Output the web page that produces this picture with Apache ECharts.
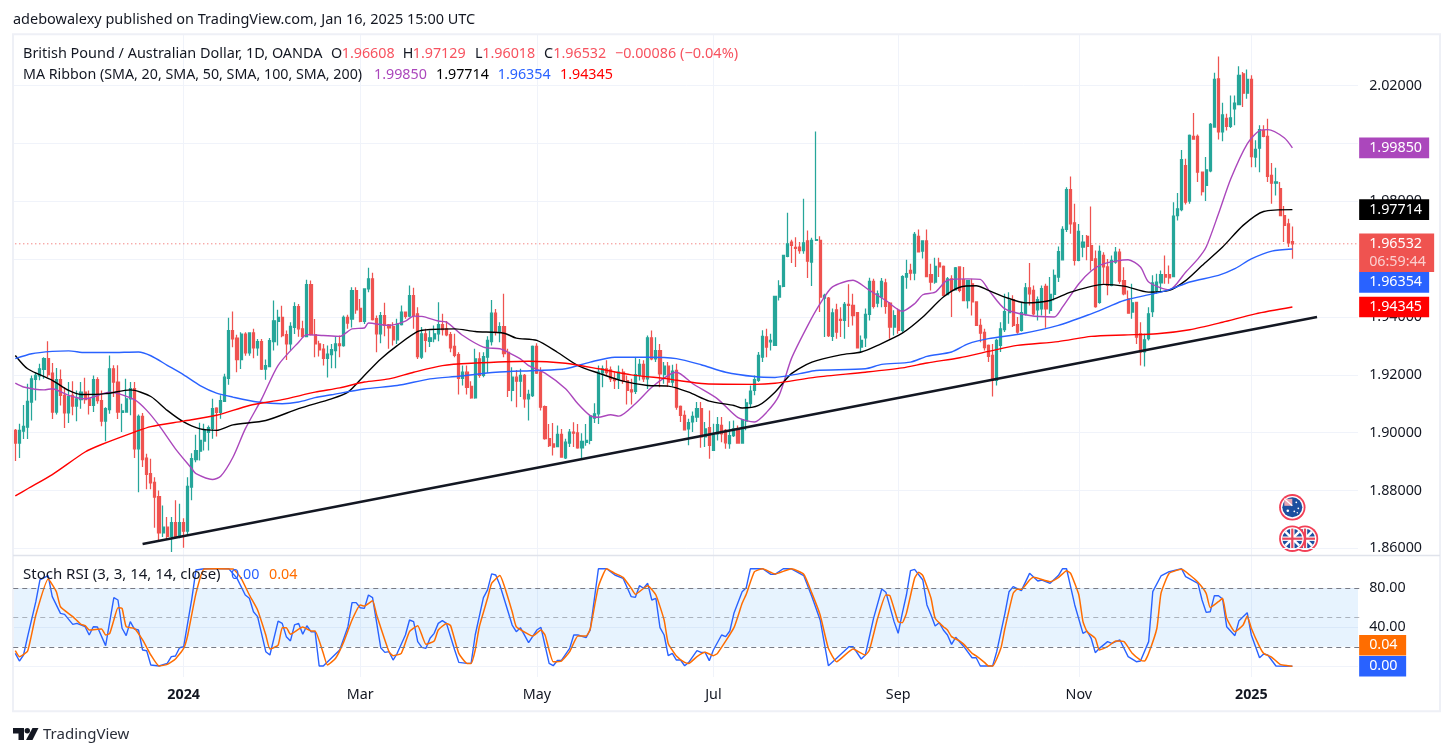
<!DOCTYPE html>
<html><head><meta charset="utf-8"><style>html,body{margin:0;padding:0;background:#fff}#c{width:1453px;height:756px}</style>
<script src="https://cdn.jsdelivr.net/npm/echarts@6/dist/echarts.min.js"></script></head><body><div id="c"></div><script>
// [open, close, low, high]
const ohlc=[
[1.9008,1.8964,1.8902,1.9013],[1.8964,1.9008,1.8912,1.9031],[1.9005,1.9022,1.8978,1.9096],[1.9019,1.9108,1.8978,1.9169],[1.9106,1.9186,1.9042,1.9198],[1.9184,1.9198,1.9111,1.9209],[1.9196,1.9221,1.9181,1.9238],[1.9219,1.9256,1.9186,1.9261],[1.9256,1.9201,1.9192,1.9316],[1.9206,1.9071,1.9047,1.9241],
[1.9071,1.9183,1.9063,1.9224],[1.9183,1.9129,1.9094,1.9218],[1.9129,1.9068,1.9016,1.9158],[1.9068,1.9125,1.9033,1.9175],[1.9129,1.9092,1.906,1.9178],[1.9092,1.9117,1.9039,1.9146],[1.9114,1.914,1.9083,1.9175],[1.914,1.9114,1.91,1.919],[1.9117,1.9094,1.9063,1.9146],[1.9094,1.9183,1.9071,1.9198],
[1.9183,1.9111,1.91,1.9192],[1.9111,1.904,1.9022,1.9146],[1.904,1.9083,1.897,1.9088],[1.908,1.9221,1.9065,1.9267],[1.9221,1.9175,1.9123,1.9233],[1.9175,1.9071,1.9047,1.9233],[1.907,1.9075,1.9002,1.91],[1.9071,1.9117,1.9071,1.9186],[1.9117,1.9152,1.906,1.9175],[1.9152,1.8944,1.8912,1.9175],
[1.8944,1.9056,1.8794,1.9063],[1.9056,1.8907,1.8881,1.9068],[1.8912,1.8856,1.8804,1.8927],[1.8858,1.8826,1.8804,1.891],[1.8828,1.8777,1.8671,1.8846],[1.8779,1.8653,1.8627,1.88],[1.8653,1.8673,1.8639,1.8748],[1.8673,1.8641,1.8631,1.8708],[1.8641,1.8689,1.8587,1.8708],[1.8689,1.8641,1.8639,1.8766],
[1.8639,1.8689,1.8635,1.8754],[1.8689,1.8659,1.8602,1.8704],[1.8659,1.8814,1.8644,1.8846],[1.8812,1.891,1.8766,1.8929],[1.8907,1.8938,1.8898,1.8993],[1.8936,1.8973,1.8904,1.9034],[1.8971,1.9008,1.8938,1.9031],[1.9001,1.9017,1.8938,1.9025],[1.9015,1.9083,1.8979,1.9117],[1.9085,1.907,1.8987,1.9088],
[1.907,1.9111,1.9048,1.9129],[1.9108,1.9192,1.9106,1.9204],[1.9188,1.9353,1.9166,1.9397],[1.9353,1.9324,1.9295,1.9419],[1.9327,1.9253,1.9209,1.9339],[1.9253,1.9341,1.922,1.9347],[1.9341,1.9276,1.9266,1.9347],[1.9276,1.9345,1.9266,1.9347],[1.9345,1.9293,1.9257,1.9359],[1.9293,1.9315,1.9266,1.9324],
[1.9315,1.922,1.9217,1.9324],[1.922,1.9232,1.9183,1.9253],[1.9228,1.9318,1.9226,1.9327],[1.9315,1.9387,1.9284,1.9457],[1.9385,1.9399,1.9301,1.9425],[1.9399,1.9336,1.933,1.9439],[1.9339,1.9307,1.9251,1.9353],[1.9307,1.9368,1.9284,1.9382],[1.9364,1.9436,1.9341,1.9451],[1.9436,1.9359,1.9332,1.9445],
[1.9359,1.9332,1.9332,1.9387],[1.9332,1.9512,1.933,1.9529],[1.9512,1.9339,1.9336,1.9526],[1.9339,1.9307,1.9261,1.9393],[1.9307,1.9286,1.9263,1.9318],[1.9289,1.9257,1.9232,1.9307],[1.9257,1.9272,1.9191,1.9301],[1.927,1.9287,1.9223,1.9307],[1.9284,1.9307,1.9223,1.9332],[1.9307,1.9301,1.9261,1.9336],
[1.9301,1.9399,1.9297,1.9405],[1.9399,1.9379,1.9359,1.9408],[1.9393,1.9491,1.9364,1.9503],[1.9491,1.9425,1.9411,1.9503],[1.943,1.9385,1.9382,1.9462],[1.9385,1.9497,1.9376,1.9497],[1.9497,1.9532,1.9486,1.957],[1.9532,1.9391,1.9388,1.9553],[1.9394,1.9342,1.9278,1.9405],[1.9342,1.9405,1.9309,1.9417],
[1.9405,1.9371,1.9333,1.9449],[1.9373,1.9362,1.929,1.9376],[1.9367,1.9321,1.9301,1.9382],[1.9321,1.9376,1.9307,1.9394],[1.9374,1.9417,1.9371,1.944],[1.9417,1.9402,1.9394,1.9419],[1.9403,1.9474,1.9399,1.9509],[1.9474,1.9405,1.9359,1.9501],[1.9411,1.9263,1.9255,1.9434],[1.9261,1.9342,1.9255,1.9365],
[1.9342,1.9319,1.9278,1.9359],[1.9316,1.9328,1.9296,1.9353],[1.9324,1.9342,1.9313,1.9371],[1.9342,1.9374,1.9316,1.9451],[1.9374,1.9356,1.9336,1.9411],[1.9359,1.9338,1.9333,1.9386],[1.9339,1.9293,1.9278,1.9348],[1.9298,1.9267,1.9261,1.9342],[1.927,1.9188,1.9132,1.9278],[1.9188,1.9209,1.9163,1.9232],
[1.9209,1.9157,1.9132,1.9232],[1.916,1.912,1.9117,1.9178],[1.912,1.9255,1.9117,1.929],[1.9255,1.9198,1.919,1.9278],[1.9198,1.9263,1.9192,1.9278],[1.9261,1.9319,1.9206,1.9333],[1.9315,1.9413,1.9301,1.9459],[1.9413,1.9348,1.9336,1.9428],[1.9348,1.9367,1.9313,1.9382],[1.9367,1.9273,1.9261,1.948],
[1.9278,1.9146,1.9123,1.929],[1.9146,1.9192,1.9109,1.9226],[1.9192,1.9178,1.9088,1.9217],[1.9178,1.9198,1.9123,1.9221],[1.9198,1.9117,1.9086,1.9203],[1.9117,1.9132,1.9042,1.9148],[1.9128,1.9298,1.9123,1.9301],[1.9298,1.9206,1.9203,1.9309],[1.9209,1.9088,1.9077,1.9226],[1.909,1.8979,1.8975,1.9094],
[1.8979,1.8955,1.895,1.903],[1.8961,1.895,1.8921,1.9033],[1.8952,1.8994,1.895,1.9025],[1.8994,1.8915,1.8915,1.9013],[1.8913,1.8967,1.8909,1.8979],[1.8964,1.9002,1.895,1.9013],[1.9002,1.8998,1.895,1.9036],[1.8999,1.8947,1.8944,1.903],[1.8947,1.897,1.8909,1.8998],[1.8966,1.8973,1.8955,1.903],
[1.8973,1.9057,1.896,1.906],[1.905,1.9065,1.9033,1.9102],[1.9065,1.9209,1.903,1.9232],[1.9207,1.9221,1.9157,1.9232],[1.9221,1.9208,1.9198,1.925],[1.9217,1.9186,1.9175,1.9229],[1.9186,1.918,1.9151,1.9209],[1.9186,1.9209,1.9151,1.9232],[1.9209,1.9178,1.9169,1.9221],[1.918,1.9146,1.9097,1.9198],
[1.9148,1.9141,1.9097,1.9186],[1.9143,1.9201,1.9134,1.9261],[1.9198,1.9236,1.918,1.9255],[1.9236,1.9186,1.9175,1.925],[1.9186,1.9328,1.9151,1.9336],[1.9328,1.9255,1.925,1.9353],[1.9255,1.9284,1.9244,1.933],[1.9284,1.9203,1.9157,1.9307],[1.9201,1.923,1.9169,1.9244],[1.923,1.9175,1.9158,1.9244],
[1.9175,1.9213,1.916,1.9235],[1.9215,1.9088,1.9079,1.9238],[1.9091,1.906,1.9037,1.9094],[1.906,1.901,1.9008,1.9077],[1.9013,1.9035,1.8956,1.9048],[1.9037,1.9056,1.9002,1.9073],[1.9054,1.9083,1.9037,1.9106],[1.9083,1.8985,1.8948,1.9106],[1.8985,1.9013,1.895,1.9037],[1.9017,1.8956,1.891,1.9077],
[1.8939,1.8996,1.8939,1.9031],[1.8996,1.9028,1.8973,1.9054],[1.9025,1.8996,1.8967,1.9054],[1.9008,1.8965,1.8944,1.9013],[1.8962,1.899,1.8944,1.9039],[1.899,1.9013,1.8985,1.9042],[1.9013,1.8964,1.8962,1.9025],[1.8964,1.9045,1.8962,1.9048],[1.904,1.9103,1.9008,1.9117],[1.91,1.9144,1.9088,1.9163],
[1.9146,1.9183,1.9129,1.9198],[1.9181,1.9267,1.9175,1.9279],[1.9261,1.9333,1.9244,1.9354],[1.9331,1.9296,1.9261,1.9359],[1.9314,1.9319,1.9284,1.9342],[1.9302,1.9471,1.9302,1.9471],[1.9469,1.9508,1.9457,1.9527],[1.9506,1.9613,1.9503,1.9615],[1.961,1.9653,1.9607,1.9761],[1.9659,1.9648,1.9587,1.9667],
[1.9641,1.9637,1.9573,1.9676],[1.9642,1.963,1.9619,1.9659],[1.963,1.9656,1.9619,1.9809],[1.9663,1.9593,1.9535,1.9699],[1.959,1.9665,1.9507,1.9674],[1.9665,1.9668,1.9663,2.0042],[1.9665,1.9469,1.9417,1.9679],[1.9465,1.9475,1.9331,1.948],[1.9465,1.9336,1.9331,1.9469],[1.9333,1.9414,1.9317,1.9429],
[1.9425,1.9348,1.9325,1.9446],[1.9392,1.9388,1.9331,1.9434],[1.9388,1.9444,1.9325,1.9452],[1.9444,1.944,1.9365,1.9513],[1.944,1.9405,1.9371,1.948],[1.9415,1.9293,1.9293,1.9417],[1.9296,1.9319,1.9279,1.9336],[1.9328,1.9409,1.9296,1.9429],[1.9409,1.9523,1.9388,1.9536],[1.9523,1.9437,1.9429,1.9532],
[1.9448,1.948,1.9434,1.9492],[1.9469,1.9523,1.9434,1.9535],[1.9518,1.9437,1.9411,1.9532],[1.9448,1.9365,1.9325,1.9452],[1.9365,1.9405,1.9336,1.9423],[1.9423,1.9354,1.9342,1.9429],[1.9354,1.954,1.9348,1.9544],[1.9538,1.955,1.9498,1.9598],[1.9561,1.9552,1.9527,1.9584],[1.9552,1.9686,1.9527,1.9694],
[1.9679,1.9625,1.9625,1.9703],[1.9628,1.9663,1.9602,1.9665],[1.9663,1.954,1.9538,1.9703],[1.9547,1.9521,1.9492,1.9584],[1.9521,1.9575,1.9515,1.9605],[1.9587,1.9573,1.9538,1.9605],[1.9575,1.9475,1.9475,1.9578],[1.9477,1.9532,1.9475,1.9538],[1.9532,1.9492,1.94,1.9544],[1.9494,1.957,1.9492,1.9573],
[1.9573,1.9492,1.9486,1.9575],[1.9529,1.9457,1.9457,1.9573],[1.9457,1.9527,1.9429,1.9529],[1.9515,1.9452,1.9405,1.9532],[1.9452,1.9371,1.9371,1.9452],[1.9371,1.9344,1.9313,1.9394],[1.9347,1.9294,1.9284,1.9359],[1.9302,1.9264,1.9244,1.9305],[1.9267,1.9181,1.9125,1.9307],[1.9181,1.9319,1.9163,1.9325],
[1.9302,1.9359,1.9279,1.9382],[1.9356,1.9419,1.9348,1.948],[1.9415,1.9457,1.9377,1.9486],[1.946,1.9371,1.9365,1.9475],[1.9374,1.9348,1.9342,1.94],[1.9354,1.9415,1.935,1.9451],[1.9411,1.9501,1.9405,1.9518],[1.9501,1.948,1.944,1.9587],[1.9492,1.9411,1.9405,1.9509],[1.9425,1.946,1.9388,1.9471],
[1.9428,1.9498,1.9405,1.9509],[1.9506,1.9428,1.9363,1.9515],[1.9423,1.9478,1.9411,1.9538],[1.9478,1.9544,1.9457,1.9564],[1.9538,1.9626,1.9521,1.9644],[1.9598,1.9703,1.9596,1.9714],[1.9703,1.9841,1.9694,1.9849],[1.9841,1.9722,1.9688,1.9886],[1.9726,1.9596,1.9578,1.9792],[1.9596,1.9696,1.9593,1.9722],
[1.9642,1.9659,1.9607,1.9684],[1.9679,1.9644,1.9596,1.9684],[1.9647,1.9596,1.9561,1.9782],[1.9601,1.9436,1.9432,1.963],[1.9451,1.9627,1.9446,1.9647],[1.9613,1.9573,1.9515,1.9624],[1.9573,1.9509,1.9475,1.9601],[1.9509,1.9596,1.9506,1.9613],[1.959,1.9624,1.9584,1.9642],[1.9624,1.9524,1.9515,1.9636],
[1.9526,1.948,1.9475,1.9572],[1.9463,1.9413,1.9411,1.9492],[1.9417,1.9449,1.9394,1.9515],[1.9451,1.933,1.9307,1.9451],[1.9342,1.9279,1.9232,1.9382],[1.9279,1.9321,1.9229,1.9342],[1.9325,1.9411,1.9319,1.9434],[1.9419,1.9518,1.94,1.9544],[1.9492,1.9521,1.948,1.955],[1.9518,1.9547,1.9486,1.9561],
[1.9547,1.9538,1.9515,1.9613],[1.9547,1.9535,1.9515,1.9578],[1.954,1.9749,1.9538,1.9797],[1.9751,1.9774,1.9734,1.9829],[1.9771,1.9944,1.9766,1.9978],[1.9924,1.9797,1.9789,1.9947],[1.9801,2.0028,1.9792,2.0031],[2.0025,2.0015,2.0013,2.0106],[2.0025,1.9901,1.9867,2.0031],[1.9901,1.9834,1.982,1.9901],
[1.9855,1.9909,1.9801,1.9953],[1.9905,2.0066,1.9901,2.0071],[2.0057,2.0222,2.0057,2.0245],[2.0224,2.004,2.0014,2.0301],[2.004,2.0099,2.0008,2.0141],[2.0087,2.0059,2.0045,2.0103],[2.0059,2.0089,2.0054,2.0166],[2.012,2.014,2.0063,2.0166],[2.0135,2.0236,2.0132,2.0267],[2.0241,2.0174,2.0126,2.0247],
[2.0174,2.0222,2.0155,2.0256],[2.0222,1.9955,1.9918,2.0236],[1.9953,1.998,1.9918,2.0011],[1.9984,2.0048,1.9901,2.0063],[2.0045,2.0025,2.0022,2.0063],[2.0025,1.9886,1.9867,2.0086],[1.989,1.9863,1.9792,1.9933],[1.9863,1.9867,1.982,1.9916],[1.9844,1.9751,1.9751,1.9867],[1.9751,1.9717,1.9659,1.9784],
[1.9722,1.9656,1.9642,1.974],[1.96608,1.96532,1.96018,1.97129]];
// [bar index, value]
const ma20=[[0,1.9171],[2,1.9158],[7,1.9148],[9,1.9152],[13,1.9129],[17,1.9117],[23,1.914],[29,1.9114],[32,1.9077],[35,1.9025],[39,1.8944],[43,1.8875],[44,1.8858],[48,1.8838],[50,1.8849],[53,1.8915],[56,1.9013],[60,1.9117],[64,1.9233],[69,1.9313],[71,1.9339],[75,1.9336],[79,1.9333],[82,1.9359],[85,1.9362],[86,1.9379],[91,1.9371],[95,1.9386],[97,1.9403],[99,1.9402],[103,1.9386],[105,1.9382],[109,1.9336],[114,1.9296],[118,1.929],[120,1.9278],[123,1.9255],[125,1.9232],[129,1.9206],[134,1.9152],[137,1.91],[140,1.9059],[142,1.9053],[145,1.9062],[147,1.9057],[151,1.91],[155,1.9157],[159,1.9198],[161,1.9209],[165,1.9169],[171,1.9117],[176,1.9052],[180,1.9037],[183,1.9071],[186,1.9129],[189,1.9256],[193,1.9371],[196,1.9446],[199,1.9504],[204,1.9527],[208,1.9492],[212,1.9457],[216,1.942],[219,1.9446],[221,1.9477],[224,1.9486],[227,1.9527],[232,1.9532],[235,1.953],[237,1.9494],[241,1.9428],[247,1.9405],[253,1.94],[255,1.9434],[259,1.9515],[262,1.9559],[265,1.9584],[271,1.9598],[274,1.9573],[276,1.9521],[281,1.9494],[285,1.9555],[288,1.9601],[290,1.9642],[293,1.9757],[296,1.9878],[300,1.9999],[303,2.0045],[305,2.0048],[309,2.002],[311,1.9985]];
const ma50=[[0,1.9267],[3,1.9221],[9,1.9181],[13,1.9146],[16,1.9132],[22,1.9135],[28,1.9148],[33,1.9125],[37,1.9077],[41,1.9037],[45,1.9013],[49,1.9008],[53,1.9027],[61,1.9042],[69,1.9083],[77,1.9117],[81,1.914],[85,1.9198],[89,1.9255],[93,1.9301],[98,1.935],[101,1.9357],[107,1.9359],[112,1.935],[119,1.9344],[122,1.9327],[127,1.9319],[132,1.9278],[137,1.9232],[142,1.9206],[148,1.9178],[154,1.9163],[159,1.9161],[164,1.914],[169,1.9109],[175,1.9094],[177,1.9085],[181,1.9094],[185,1.914],[189,1.9204],[194,1.9244],[201,1.9269],[206,1.9279],[210,1.9302],[216,1.9344],[221,1.94],[226,1.9469],[230,1.9503],[234,1.9508],[237,1.9492],[241,1.9469],[246,1.9449],[252,1.9457],[257,1.9486],[265,1.9513],[270,1.9507],[276,1.9486],[281,1.9492],[285,1.9526],[289,1.9578],[294,1.9642],[299,1.9717],[304,1.9765],[311,1.97714]];
const ma100=[[0,1.9256],[4,1.9273],[9,1.9281],[13,1.9283],[17,1.9277],[23,1.9277],[30,1.9279],[33,1.9266],[37,1.9233],[41,1.92],[45,1.9163],[49,1.9137],[53,1.9123],[59,1.9106],[65,1.91],[69,1.9106],[73,1.9121],[77,1.9131],[85,1.9151],[93,1.9163],[101,1.9186],[108,1.9195],[117,1.9209],[127,1.9215],[134,1.9221],[140,1.9244],[146,1.9261],[154,1.9261],[161,1.9256],[167,1.9235],[173,1.9209],[180,1.9194],[185,1.9191],[191,1.9204],[195,1.9215],[207,1.9221],[211,1.9236],[218,1.9244],[222,1.9264],[228,1.9279],[232,1.9307],[237,1.9325],[245,1.9342],[254,1.9371],[262,1.9411],[266,1.9434],[270,1.9457],[277,1.948],[281,1.9494],[286,1.9521],[293,1.9544],[297,1.9567],[301,1.9601],[306,1.9628],[311,1.96354]];
const ma200=[[0,1.8781],[3,1.8806],[9,1.8855],[17,1.8933],[21,1.8959],[29,1.9002],[33,1.9021],[41,1.904],[49,1.906],[57,1.9094],[65,1.9114],[73,1.914],[79,1.9155],[85,1.9175],[91,1.9186],[97,1.9209],[104,1.9232],[111,1.924],[125,1.9247],[134,1.924],[142,1.9221],[150,1.92],[159,1.9186],[161,1.9181],[168,1.9169],[180,1.9167],[185,1.9171],[195,1.9192],[207,1.9209],[216,1.9224],[222,1.9241],[230,1.9259],[237,1.9281],[244,1.9302],[254,1.9315],[262,1.9333],[270,1.9338],[278,1.9342],[286,1.9356],[294,1.9382],[302,1.9411],[311,1.94345]];
const trendLine=[[31,1.8615],[317,1.94]];
const stochK=[[0,13.3],[1,5.4],[2,11.6],[3,30.4],[5,66.3],[6,88.5],[8,93],[9,71.4],[11,54.3],[12,53.3],[14,43],[15,44],[17,40.6],[18,32.1],[19,40.6],[20,40.3],[22,21.2],[24,70.4],[25,68],[26,39],[27,31.4],[28,45.8],[29,38.2],[30,37.2],[31,16.7],[32,16],[33,1.3],[35,.3],[37,3],[38,9.9],[39,10.5],[40,19],[41,20.1],[43,69.7],[44,98.8],[46,100],[52,100],[54,90.2],[56,73.1],[57,69.7],[58,56],[59,50.9],[61,15],[62,11.6],[64,46.4],[65,44],[66,30.4],[67,26],[68,42.4],[69,44],[70,32.8],[71,41.6],[72,35.5],[73,35.5],[74,.3],[75,.3],[79,16.7],[81,40.6],[82,65.3],[83,65.3],[84,60.1],[85,59.4],[86,73.1],[87,70.4],[89,19],[90,14.3],[91,15],[92,6.4],[93,13.3],[95,32.1],[96,47.5],[97,45.8],[98,25.3],[99,19.4],[100,18.4],[101,28.7],[102,33.8],
[103,44],[104,46.8],[105,44],[107,16.7],[108,4],[110,3],[111,3],[112,32.1],[114,70.4],[115,78.3],[116,94.7],[117,93.6],[118,83.4],[121,42.3],[122,35.5],[123,39.6],[125,24.2],[127,37.2],[128,40],[130,3],[131,.6],[132,6],[133,6],[135,18.4],[136,32.1],[137,32.1],[139,29.4],[140,37.2],[142,100],[144,100],[146,93.6],[148,90.2],[150,71.4],[151,70.7],[152,82.7],[153,80],[154,85.1],[155,68],[156,69.7],[157,39.6],[158,32.1],[159,10.9],[160,13.3],[161,6.4],[162,6.4],[163,.6],[164,4],[166,16],[167,14.3],[168,14.3],[169,5.8],[170,16.7],[172,32.1],[173,30.4],[174,36.2],[175,54.3],[177,76.5],[178,80.6],[179,100],[182,100],[184,94.3],[185,94.3],[187,100],[189,100],[192,93],[194,71.4],[196,47.5],[198,.6],[200,8.2],[203,20.1],[204,20.1],[206,7.5],[207,11.6],[209,49.2],[211,79.3],[212,76],
[214,45.8],[215,33.8],[216,54.3],[217,73.1],[218,98.1],[219,99.4],[221,88.5],[222,62.9],[223,52.6],[224,41.3],[225,44.7],[226,37.2],[227,32.1],[228,22.5],[229,29.7],[231,20.1],[233,8.8],[234,8.8],[235,.3],[238,.3],[239,15],[241,54.3],[242,76.5],[243,81.7],[245,77.6],[247,95.3],[249,87.5],[250,88.5],[252,85.1],[254,93],[255,100],[256,100],[258,62.9],[260,33.8],[261,36.2],[262,28.7],[263,14],[264,18.4],[266,25.3],[267,23.5],[269,27],[271,9.9],[273,4.7],[274,5.4],[276,25.3],[277,76.5],[279,92.6],[281,97],[284,100],[285,91.9],[288,85.1],[289,68],[290,55.3],[291,56],[292,72.4],[293,72.4],[294,69],[295,40.6],[297,31.4],[298,46.8],[300,55],[301,32.1],[303,8.8],[304,12.6],[305,11.6],[307,.3],[311,0]];
const stochD=[[0,16],[1,9.9],[3,15.7],[5,52.6],[8,89.5],[10,76.5],[11,61.1],[14,50.9],[16,43],[17,41.7],[18,37.2],[21,38.2],[22,32.1],[23,33.8],[24,47.5],[25,60.1],[26,59.4],[27,40.6],[29,38.9],[31,27],[33,11.6],[35,.3],[37,2],[39,7.5],[41,18.4],[42,32.1],[44,74.8],[46,99.8],[49,100],[53,99.8],[55,90.2],[57,73.1],[59,57.7],[61,32.1],[62,17.7],[64,21.8],[65,39.6],[66,39.6],[67,32.8],[70,40.3],[72,36.2],[73,36.2],[75,13.3],[76,1.3],[78,8.2],[80,25.3],[82,47.5],[84,62.9],[85,61.8],[87,67.3],[88,52.6],[91,15],[92,10.9],[94,13.3],[96,35.5],[98,41.7],[100,22.5],[102,25.9],
[103,37.2],[105,44],[106,41.7],[108,13.3],[110,3],[111,3],[112,16.7],[113,40.6],[115,69.7],[116,85.1],[118,93],[119,83.4],[121,56],[122,40.6],[125,32.8],[126,31.1],[128,37.2],[129,32.1],[131,4.7],[133,5.4],[135,15],[137,31],[139,31],[140,38.2],[142,81.7],[144,100],[146,95.3],[148,91.2],[150,80],[151,73.8],[154,82.7],[156,73.1],[158,47.5],[159,23.5],[161,10.6],[163,4],[164,3],[166,9.9],[168,14.3],[170,10.9],[171,13.3],[175,39.6],[177,64.6],[178,73.8],[180,97],[182,100],[185,94.7],[189,100],[192,94.3],[194,74.8],[196,52.6],[198,18.4],[200,4.7],[204,17.7],[207,11.6],[208,16.7],[210,49.2],[212,73.1],[213,72.4],
[215,45.8],[216,44.7],[217,54.3],[219,90.2],[220,96.4],[221,93],[223,69.7],[224,49.2],[226,40.6],[227,37.2],[228,30.4],[230,25.9],[231,22.5],[233,13.3],[234,10.6],[236,4],[237,.3],[238,.3],[240,18.4],[241,39],[243,74.8],[244,78.9],[245,78.9],[247,88.5],[248,91.2],[252,86.8],[254,90.9],[256,98.1],[257,95.3],[259,73.1],[260,45.8],[261,35.5],[263,28.7],[264,16.7],[266,20.1],[268,25.9],[270,25.3],[272,13.3],[274,6.4],[275,5.4],[276,13.3],[278,39],[279,74.8],[281,95.3],[284,99.4],[286,93.6],[288,86.1],[290,74.8],[291,60.1],[293,66.3],[294,69.7],[295,49.2],[297,35.5],[299,42.3],[300,51.6],[301,39],[303,20.1],[304,13.3],[306,9.2],[308,2],[310,.6],[311,.04]];
const priceTicks=[1.86,1.88,1.90,1.92,1.94,1.96,1.98,2.00,2.02];
const stochGrid=[0,40,80], stochLabels=[40,80];
const monthTicks={41:'2024',84:'Mar',127:'May',170:'Jul',215:'Sep',259:'Nov',301:'2025'};
const lastPrice=1.96532;
const priceTags=[['1.99850',1.9985],['1.97714',1.97714],['1.96532',1.96532],['1.96354',1.96354],['1.94345',1.94345]];
const stochTags=[['0.04',0.04],['0.00',0]];
const categories=Array.from({length:328},(_,i)=>String(i));
const lastPriceLine=[[0,lastPrice],[327,lastPrice]];
// styles
const FONT='"Noto Sans"',TXT='#131722',UP='#26a69a',DOWN='#ef5350',LEG='#f7525f',GRID='#f0f3fa';
const tagColors=['#ab47bc','#000000','#ef5350','#2962ff','#ff0000'],tagShift=[0,0,0,33.4,0];
const stochTagColors=['#ff6d00','#2962ff'],stochShift=[-21,0];
const L=13.25,W=1346.9;
const isTick=i=>monthTicks[i]!==undefined;
function tagItem(params,api,label,color,shift,w,extra){
  const cs=params.coordSys,y=api.coord([0,api.value(1)])[1]+shift,x=cs.x+cs.width-1;
  const kids=[{type:'rect',shape:{x,y:y-10.3,width:w,height:20.6},style:{fill:color}},
    {type:'text',style:{x:x+10,y:y,text:label,fill:'#fff',font:'14.3px '+FONT,verticalAlign:'middle',align:'left'}}];
  if(extra){kids[0].shape.width=75;kids[0].shape.height=38.5;
    kids.push({type:'text',style:{x:x+10,y:y+18.5,text:extra,fill:'rgba(255,255,255,.72)',font:'14.3px '+FONT,verticalAlign:'middle',align:'left'}});}
  return {type:'group',children:kids};
}
const lineS=(d,c,w,z,xi)=>({type:'line',data:d,xAxisIndex:xi||0,yAxisIndex:xi||0,showSymbol:false,smooth:0.25,lineStyle:{color:c,width:w},itemStyle:{color:c},z:z||3,silent:true,animation:false});
const txt=(x,y,t,c,size)=>({type:'text',x,y,z:8,silent:true,style:{text:t,fill:c||TXT,font:(size||14.3)+'px '+FONT,verticalAlign:'middle'}});
const ring=(cx,cy,inner)=>({type:'group',z:6,silent:true,children:[
 {type:'circle',shape:{cx,cy,r:13.2},style:{fill:'#f23f56'}},{type:'circle',shape:{cx,cy,r:11.4},style:{fill:'#fff'}},{type:'circle',shape:{cx,cy,r:10},style:{fill:'#1c4f9f'}}].concat(inner)});
const ln=(x1,y1,x2,y2,c,w)=>({type:'line',shape:{x1,y1,x2,y2},style:{stroke:c,lineWidth:w}});
const uk=(cx,cy)=>[ln(cx-7,cy-7,cx+7,cy+7,'#fff',2.4),ln(cx-7,cy+7,cx+7,cy-7,'#fff',2.4),ln(cx-10,cy,cx+10,cy,'#fff',4.4),ln(cx,cy-10,cx,cy+10,'#fff',4.4),ln(cx-10,cy,cx+10,cy,'#e8475c',2.2),ln(cx,cy-10,cx,cy+10,'#e8475c',2.2)];
const dot=(cx,cy,r)=>({type:'circle',shape:{cx,cy,r},style:{fill:'#fff'}});
const au=(cx,cy)=>[{type:'rect',shape:{x:cx-8,y:cy-8.5,width:8,height:7},style:{fill:'#e9a5b2'}},ln(cx-8,cy-8.5,cx,cy-1.5,'#fff',1.3),dot(cx+4,cy-5,.9),dot(cx+6,cy+1,.9),dot(cx+2,cy+4,.9),dot(cx-4.5,cy+3.5,1.3),dot(cx+5,cy+5.5,.7)];
const chart=echarts.init(document.getElementById('c'),null,{renderer:'canvas'});
chart.setOption({animation:false,backgroundColor:'#fff',
 grid:[{left:L,top:35,width:W,height:520},{left:L,top:556,width:W,height:121}],
 xAxis:[0,1].map(g=>({type:'category',gridIndex:g,data:categories,boundaryGap:true,
   axisLine:{show:false},axisTick:{show:false,interval:i=>isTick(i)},
   splitLine:{show:true,alignWithLabel:true,interval:i=>isTick(i),lineStyle:{color:GRID,width:1}},
   axisLabel:g===0?{show:false,interval:i=>isTick(i)}:{show:true,interval:i=>isTick(i),margin:11,fontFamily:FONT,fontSize:14.3,color:TXT,hideOverlap:false,
     formatter:(v,i)=>{const t=monthTicks[i]||'';return /^20/.test(t)?'{b|'+t+'}':t;},rich:{b:{fontFamily:FONT,fontSize:14.3,fontWeight:'bold',color:TXT}}}})),
 yAxis:[
  {type:'value',gridIndex:0,position:'right',min:1.85768,max:2.03754,scale:true,
   axisLine:{show:false},axisTick:{show:false,customValues:priceTicks},
   splitLine:{show:true,lineStyle:{color:GRID,width:1}},
   axisLabel:{customValues:priceTicks,margin:9,fontFamily:FONT,fontSize:14.3,color:TXT,formatter:v=>v.toFixed(5)}},
  {type:'value',gridIndex:1,position:'right',min:-10.97,max:113.1,
   axisLine:{show:false},axisTick:{show:false,customValues:stochGrid},
   splitLine:{show:true,lineStyle:{color:GRID,width:1}},
   axisLabel:{customValues:stochLabels,margin:9,fontFamily:FONT,fontSize:14.3,color:TXT,formatter:v=>v.toFixed(2)}}],
 series:[
  Object.assign(lineS(lastPriceLine,DOWN,1,1),{smooth:false,lineStyle:{color:DOWN,width:1,type:[1,3]}}),
  {type:'candlestick',data:ohlc,xAxisIndex:0,yAxisIndex:0,barWidth:2.6,z:2,silent:true,animation:false,large:false,
   itemStyle:{color:UP,color0:DOWN,borderColor:UP,borderColor0:DOWN,borderWidth:1.25}},
  lineS(ma20,'#ab47bc',1.4),lineS(ma50,'#000000',1.4),lineS(ma100,'#2962ff',1.4),lineS(ma200,'#ff0000',1.4),
  Object.assign(lineS(trendLine,'#131722',2.6),{smooth:false}),
  Object.assign(lineS(stochK,'#2962ff',1.4,3,1),{smooth:false,
    markArea:{silent:true,animation:false,itemStyle:{color:'rgba(33,150,243,0.11)'},data:[[{yAxis:20},{yAxis:80}]]},
    markLine:{silent:true,animation:false,symbol:'none',label:{show:false},data:[
      {yAxis:80,lineStyle:{color:'#787b86',type:[5,4],width:1}},{yAxis:50,lineStyle:{color:'rgba(120,123,134,.55)',type:[5,4],width:1}},{yAxis:20,lineStyle:{color:'#787b86',type:[5,4],width:1}}]}}),
  Object.assign(lineS(stochD,'#ff6d00',1.5,3,1),{smooth:0.15}),
  {type:'custom',xAxisIndex:0,yAxisIndex:0,z:7,silent:true,animation:false,clip:false,data:priceTags.map(t=>[0,t[1]]),
   renderItem:(p,api)=>tagItem(p,api,priceTags[p.dataIndex][0],tagColors[p.dataIndex],tagShift[p.dataIndex],70,p.dataIndex===2?'06:59:44':null)},
  {type:'custom',xAxisIndex:1,yAxisIndex:1,z:7,silent:true,animation:false,clip:false,data:stochTags.map(t=>[0,t[1]]),
   renderItem:(p,api)=>tagItem(p,api,stochTags[p.dataIndex][0],stochTagColors[p.dataIndex],stochShift[p.dataIndex],47)}
 ],
 graphic:[
  {type:'rect',z:5,silent:true,shape:{x:1358,y:36,width:3,height:640},style:{fill:'#fff'}},
  {type:'rect',z:5,silent:true,shape:{x:13,y:34.3,width:1427,height:677},style:{fill:'none',stroke:'#eef0f6',lineWidth:2}},
  {type:'line',z:5,silent:true,shape:{x1:13,y1:555.5,x2:1440,y2:555.5},style:{stroke:'#e0e3eb',lineWidth:1.5}},
  txt(13,20,'adebowalexy published on TradingView.com, Jan 16, 2025 15:00 UTC',TXT,14.47),
  txt(23,54,'British Pound / Australian Dollar, 1D, OANDA',TXT,14.45),
  txt(331,54,'O'),txt(341.7,54,'1.96608',LEG),txt(402.7,54,'H'),txt(412.7,54,'1.97129',LEG),txt(475,54,'L'),txt(482.3,54,'1.96018',LEG),txt(544,54,'C'),txt(553.3,54,'1.96532',LEG),txt(615,54,'−0.00086',LEG),txt(680,54,'(−0.04%)',LEG,14.6),
  txt(23,75,'MA Ribbon (SMA, 20, SMA, 50, SMA, 100, SMA, 200)',TXT,14.25),
  txt(374,75,'1.99850','#ab47bc'),txt(436,75,'1.97714','#000'),txt(497.7,75,'1.96354','#2962ff'),txt(560,75,'1.94345','#ff0000'),
  txt(23,575,'Stoch RSI (3, 3, 14, 14, close)',TXT,15),txt(231,575,'0.00','#2962ff'),txt(269,575,'0.04','#ff6d00'),
  ring(1305,538.7,uk(1305,538.7)),ring(1292.3,538.7,uk(1292.3,538.7)),ring(1292.3,507.3,au(1292.3,507.3)),
  {type:'polygon',z:8,silent:true,shape:{points:[[13,728],[24,728],[24,740],[18.5,740],[18.5,733.5],[13,733.5]]},style:{fill:TXT}},
  {type:'circle',z:8,silent:true,shape:{cx:27.3,cy:730.8,r:2.7},style:{fill:TXT}},
  {type:'polygon',z:8,silent:true,shape:{points:[[32.5,728],[38.5,728],[32.5,740],[26,740]]},style:{fill:TXT}},
  txt(43,735,'TradingView','#2a2e39',15)
 ]});
</script></body></html>
